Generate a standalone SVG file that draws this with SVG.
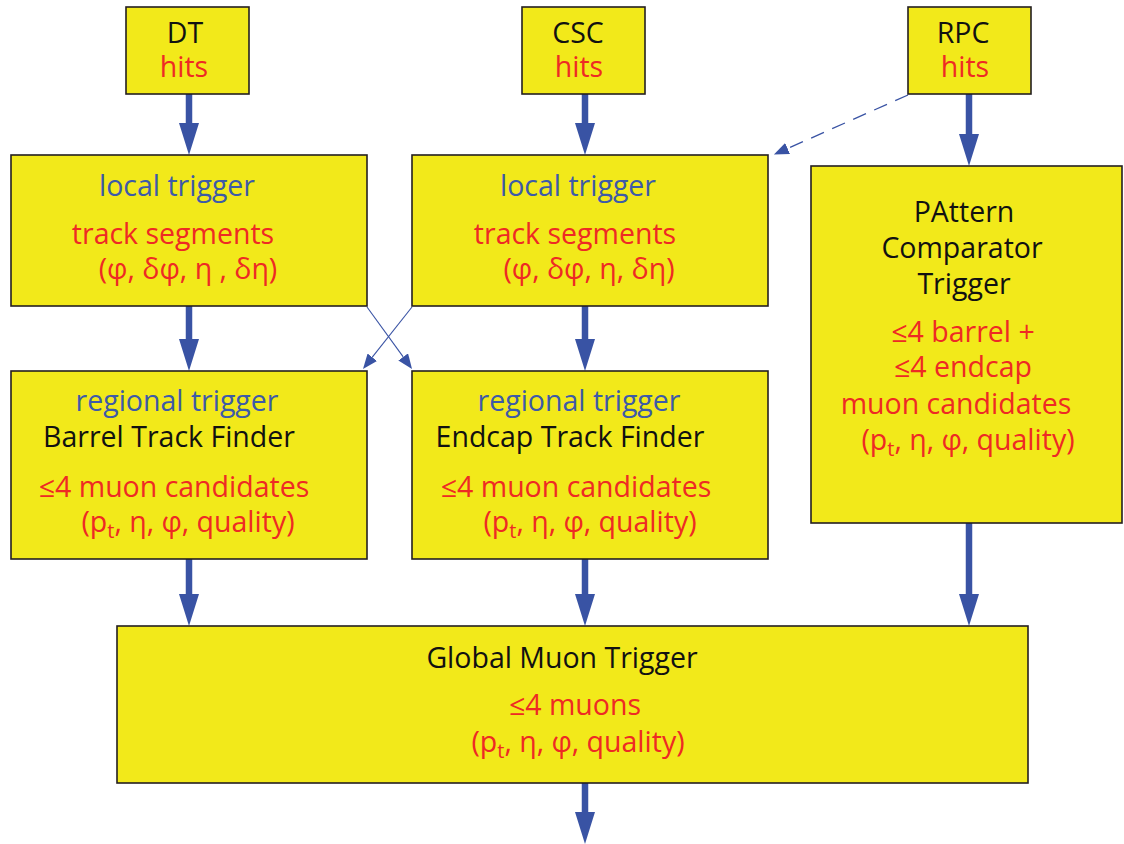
<svg xmlns="http://www.w3.org/2000/svg" width="1124" height="844" viewBox="0 0 1124 844">
  <style>
    .box { fill: #f2e91a; stroke: #231f20; stroke-width: 1.6; }
    text { font-family: "Open Sans", "Liberation Sans", sans-serif; font-size: 28.5px; text-anchor: middle; }
    .k { fill: #111111; }
    .r { fill: #ee2a24; }
    .b { fill: #3d5aa8; }
    .thick { stroke: #3953a4; stroke-width: 6.5; fill: none; }
    .thin { stroke: #3953a4; stroke-width: 1.1; fill: none; }
    .dash { stroke: #3953a4; stroke-width: 1.3; fill: none; stroke-dasharray: 14 9; }
  </style>
  <defs>
    <marker id="head" viewBox="0 0 32 20" refX="0" refY="10" markerWidth="32" markerHeight="20" markerUnits="userSpaceOnUse" orient="auto">
      <path d="M0,0 L32,10 L0,20 z" fill="#3953a4"/>
    </marker>
    <marker id="headSmall" viewBox="0 0 15 12" refX="0" refY="6" markerWidth="15" markerHeight="12" markerUnits="userSpaceOnUse" orient="auto">
      <path d="M0,0 L15,6 L0,12 z" fill="#3953a4"/>
    </marker>
  </defs>

  <!-- connectors -->
  <g id="connectors">
    <line class="thick" x1="189" y1="94" x2="189" y2="123" marker-end="url(#head)"/>
    <line class="thick" x1="585" y1="94" x2="585" y2="123" marker-end="url(#head)"/>
    <line class="thick" x1="969" y1="94" x2="969" y2="134" marker-end="url(#head)"/>
    <line class="thick" x1="189" y1="306" x2="189" y2="339" marker-end="url(#head)"/>
    <line class="thick" x1="585" y1="306" x2="585" y2="339" marker-end="url(#head)"/>
    <line class="thick" x1="189" y1="559" x2="189" y2="594" marker-end="url(#head)"/>
    <line class="thick" x1="585" y1="559" x2="585" y2="594" marker-end="url(#head)"/>
    <line class="thick" x1="969" y1="523" x2="969" y2="594" marker-end="url(#head)"/>
    <line class="thick" x1="585" y1="783" x2="585" y2="812" marker-end="url(#head)"/>
    <line class="thin" x1="367" y1="307" x2="403.2" y2="356.9" marker-end="url(#headSmall)"/>
    <line class="thin" x1="412" y1="307" x2="372.3" y2="357.2" marker-end="url(#headSmall)"/>
    <line class="dash" x1="908" y1="95" x2="787.6" y2="148.5" marker-end="url(#headSmall)"/>
  </g>

  <g id="dt-hits">
    <rect class="box" x="126" y="7" width="123" height="87"/>
    <text class="k" x="185" y="43">DT</text>
    <text class="r" x="184" y="77">hits</text>
  </g>
  <g id="csc-hits">
    <rect class="box" x="522" y="7" width="123" height="87"/>
    <text class="k" x="578" y="43">CSC</text>
    <text class="r" x="579" y="77">hits</text>
  </g>
  <g id="rpc-hits">
    <rect class="box" x="908" y="7" width="123" height="87"/>
    <text class="k" x="963" y="43">RPC</text>
    <text class="r" x="965" y="77">hits</text>
  </g>

  <g id="dt-local">
    <rect class="box" x="11" y="155" width="356" height="151"/>
    <text class="b" x="177" y="196">local trigger</text>
    <text class="r" x="173" y="244">track segments</text>
    <text class="r" x="188" y="279">(φ, δφ, η , δη)</text>
  </g>
  <g id="csc-local">
    <rect class="box" x="412" y="155" width="356" height="151"/>
    <text class="b" x="578" y="196">local trigger</text>
    <text class="r" x="575" y="244">track segments</text>
    <text class="r" x="589" y="279">(φ, δφ, η, δη)</text>
  </g>

  <g id="pact">
    <rect class="box" x="811" y="166" width="311" height="357"/>
    <text class="k" x="964" y="222">PAttern</text>
    <text class="k" x="962" y="258">Comparator</text>
    <text class="k" x="964" y="294">Trigger</text>
    <text class="r" x="963" y="342">≤4 barrel +</text>
    <text class="r" x="963" y="377">≤4 endcap</text>
    <text class="r" x="956" y="414">muon candidates</text>
    <text class="r" x="968" y="450">(p<tspan font-size="20" dy="6">t</tspan><tspan dy="-6">, η, φ, quality)</tspan></text>
  </g>

  <g id="barrel-tf">
    <rect class="box" x="11" y="371" width="356" height="188"/>
    <text class="b" x="177" y="411">regional trigger</text>
    <text class="k" x="169" y="447">Barrel Track Finder</text>
    <text class="r" x="174" y="497">≤4 muon candidates</text>
    <text class="r" x="188" y="532">(p<tspan font-size="20" dy="6">t</tspan><tspan dy="-6">, η, φ, quality)</tspan></text>
  </g>
  <g id="endcap-tf">
    <rect class="box" x="412" y="371" width="356" height="188"/>
    <text class="b" x="579" y="411">regional trigger</text>
    <text class="k" x="570" y="447">Endcap Track Finder</text>
    <text class="r" x="576" y="497">≤4 muon candidates</text>
    <text class="r" x="590" y="532">(p<tspan font-size="20" dy="6">t</tspan><tspan dy="-6">, η, φ, quality)</tspan></text>
  </g>

  <g id="gmt">
    <rect class="box" x="117" y="626" width="911" height="157"/>
    <text class="k" x="562" y="668">Global Muon Trigger</text>
    <text class="r" x="575" y="715">≤4 muons</text>
    <text class="r" x="578" y="752">(p<tspan font-size="20" dy="6">t</tspan><tspan dy="-6">, η, φ, quality)</tspan></text>
  </g>
</svg>
